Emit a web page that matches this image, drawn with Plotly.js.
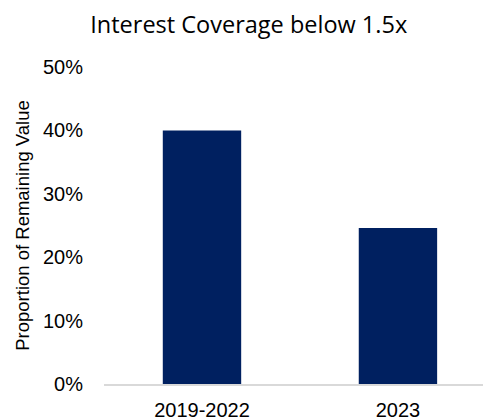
<!DOCTYPE html>
<html>
<head>
<meta charset="utf-8">
<script src="https://cdn.plot.ly/plotly-3.0.1.min.js"></script>
<style>html,body{margin:0;padding:0;background:#fff;}#chart{width:483px;height:420px;}</style>
</head>
<body>
<div id="chart"></div>
<script>
const categories = ["2019-2022", "2023"];
const values = [0.40, 0.246];
const yTickVals = [0, 0.1, 0.2, 0.3, 0.4, 0.5];
const yTickText = ["0%", "10%", "20%", "30%", "40%", "50%"];
const chartTitle = "Interest Coverage below 1.5x";
const yTitle = "Proportion of Remaining Value";

const trace = {
  type: "bar",
  x: categories,
  y: values,
  width: 0.4,
  marker: {color: "#002060"},
  hoverinfo: "skip"
};

const layout = {
  width: 483, height: 420,
  paper_bgcolor: "#fff", plot_bgcolor: "#fff",
  margin: {l: 104, r: 0, t: 67, b: 36, pad: 0},
  showlegend: false,
  title: {text: chartTitle, x: 0.515, xanchor: "center", y: 0.94, yanchor: "middle",
          font: {family: "Open Sans, Liberation Sans, sans-serif", size: 23.5, color: "#000"}},
  xaxis: {
    type: "category",
    range: [-0.5, 1.434],
    showgrid: false, zeroline: false,
    showline: true, linecolor: "#d9d9d9", linewidth: 1.5,
    ticks: "", ticklabelstandoff: 7,
    tickfont: {family: "Liberation Sans, Arial, sans-serif", size: 20, color: "#000"}
  },
  yaxis: {
    range: [0, 0.5],
    tickvals: yTickVals, ticktext: yTickText,
    showgrid: false, zeroline: false, showline: false,
    ticks: "", ticklabelstandoff: 20,
    tickfont: {family: "Liberation Sans, Arial, sans-serif", size: 20, color: "#000"},
    title: {text: yTitle, standoff: 8,
            font: {family: "Liberation Sans, Arial, sans-serif", size: 18.5, color: "#000"}}
  }
};

Plotly.newPlot("chart", [trace], layout, {displayModeBar: false, staticPlot: true});
</script>
</body>
</html>
